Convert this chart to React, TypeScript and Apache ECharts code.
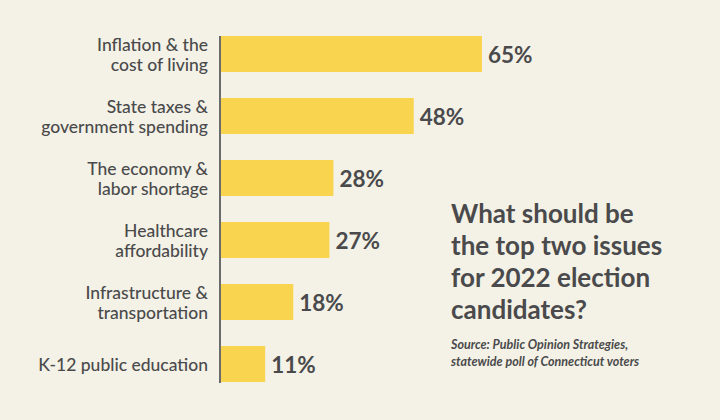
import React, { useEffect, useRef } from "react";
import * as echarts from "echarts";

const categories = [
  "Inflation & the\ncost of living",
  "State taxes &\ngovernment spending",
  "The economy &\nlabor shortage",
  "Healthcare\naffordability",
  "Infrastructure &\ntransportation",
  "K-12 public education",
];
const values = [65, 48, 28, 27, 18, 11];
const titleLines = ["What should be", "the top two issues", "for 2022 election", "candidates?"];
const sourceLines = ["Source: Public Opinion Strategies,", "statewide poll of Connecticut voters"];

const TEXT = "#4a4a4c";
const FONT = "Lato";

export default function App() {
  const ref = useRef<HTMLDivElement>(null);
  useEffect(() => {
    if (!ref.current) return;
    const chart = echarts.init(ref.current, null, { renderer: "svg" });
    chart.setOption({
      animation: false,
      backgroundColor: "#f4f2e6",
      grid: { left: 221, top: 23, width: 401.5, height: 372, containLabel: false },
      xAxis: { type: "value", min: 0, max: 100, show: false },
      yAxis: {
        type: "category",
        data: categories,
        inverse: true,
        axisLine: { show: false },
        axisTick: { show: false },
        splitLine: { show: false },
        axisLabel: {
          margin: 13,
          color: TEXT,
          fontFamily: FONT,
          fontSize: 17.5,
          fontWeight: 500,
          lineHeight: 20,
          align: "right",
        },
      },
      graphic: [
        {
          type: "line",
          shape: { x1: 220, y1: 36, x2: 220, y2: 383 },
          style: { stroke: "#6b6b6b", lineWidth: 2 },
          z: 10,
        },
        ...titleLines.map((t, i) => ({
          type: "text",
          left: 451,
          top: 200 + i * 32,
          style: { text: t, fill: TEXT, font: `bold 26px ${FONT}` },
        })),
        ...sourceLines.map((t, i) => ({
          type: "text",
          left: 451,
          top: 338 + i * 17,
          style: { text: t, fill: TEXT, font: `italic bold 12.5px ${FONT}` },
        })),
      ],
      series: [
        {
          type: "bar",
          data: values,
          barWidth: 36,
          itemStyle: { color: "#f9d44e" },
          label: {
            show: true,
            position: "right",
            distance: 6,
            formatter: "{c}%",
            color: TEXT,
            fontFamily: FONT,
            fontWeight: "bold",
            fontSize: 22.5,
          },
        },
      ],
    });
    return () => chart.dispose();
  }, []);
  return <div ref={ref} style={{ width: 720, height: 420, position: "absolute", left: 0, top: 0 }} />;
}
